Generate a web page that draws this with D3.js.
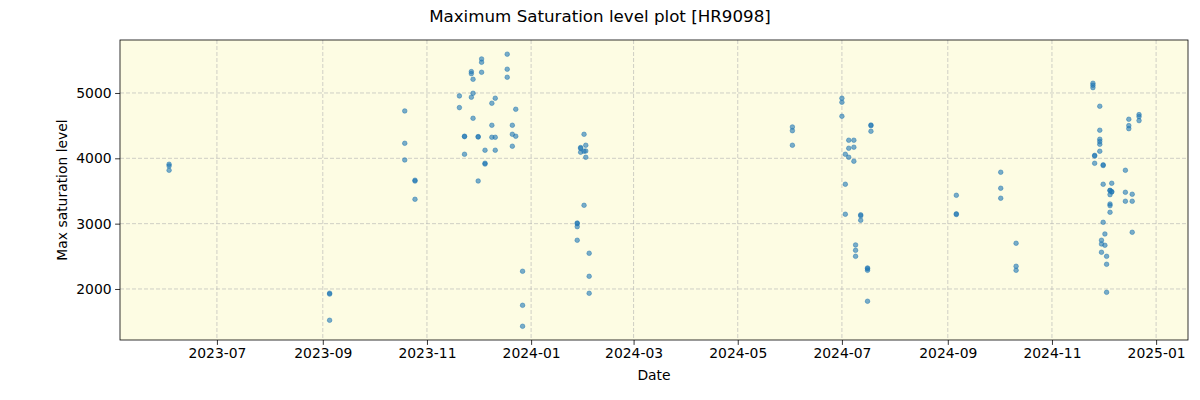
<!DOCTYPE html>
<html>
<head>
<meta charset="utf-8">
<script src="https://cdn.jsdelivr.net/npm/d3@7"></script>
<style>
  body { margin: 0; background: #fff; }
  svg { font-family: "DejaVu Sans", sans-serif; }
</style>
</head>
<body>
<svg id="chart"></svg>
<script>
const dates = [
  "2023-06-03","2023-06-03","2023-06-03",
  "2023-09-05","2023-09-05","2023-09-05",
  "2023-10-19","2023-10-19","2023-10-19","2023-10-25","2023-10-25","2023-10-25",
  "2023-11-20","2023-11-20","2023-11-23","2023-11-23","2023-11-23",
  "2023-11-27","2023-11-27","2023-11-28","2023-11-28","2023-11-27","2023-11-28",
  "2023-12-01","2023-12-01","2023-12-01","2023-12-03","2023-12-03","2023-12-03",
  "2023-12-05","2023-12-05","2023-12-05",
  "2023-12-09","2023-12-11","2023-12-09","2023-12-09","2023-12-11","2023-12-11",
  "2023-12-18","2023-12-18","2023-12-18","2023-12-21","2023-12-21","2023-12-23","2023-12-21","2023-12-23",
  "2023-12-27","2023-12-27","2023-12-27",
  "2024-02-01","2024-02-02","2024-01-30","2024-01-30","2024-01-30","2024-02-01","2024-02-02","2024-02-02","2024-02-01",
  "2024-01-28","2024-01-28","2024-01-28","2024-01-28","2024-02-04","2024-02-04","2024-02-04",
  "2024-06-02","2024-06-02","2024-06-02",
  "2024-07-01","2024-07-01","2024-07-01",
  "2024-07-03","2024-07-03","2024-07-03",
  "2024-07-05","2024-07-05","2024-07-05",
  "2024-07-08","2024-07-08","2024-07-08",
  "2024-07-09","2024-07-09","2024-07-09",
  "2024-07-12","2024-07-12","2024-07-12",
  "2024-07-16","2024-07-16","2024-07-16","2024-07-16",
  "2024-07-18","2024-07-18","2024-07-18",
  "2024-09-06","2024-09-06","2024-09-06",
  "2024-10-02","2024-10-02","2024-10-02",
  "2024-10-11","2024-10-11","2024-10-11",
  "2024-11-25","2024-11-25","2024-11-25",
  "2024-11-29","2024-11-29","2024-11-29","2024-11-29","2024-11-29","2024-11-29",
  "2024-11-26","2024-11-26","2024-11-26",
  "2024-12-01","2024-12-01","2024-12-01","2024-12-01",
  "2024-11-30","2024-11-30","2024-12-02","2024-11-30","2024-12-03","2024-12-03","2024-12-03","2024-12-02",
  "2024-12-06","2024-12-05","2024-12-05","2024-12-06","2024-12-06","2024-12-05","2024-12-05","2024-12-05","2024-12-05",
  "2024-12-14","2024-12-14","2024-12-14",
  "2024-12-16","2024-12-16","2024-12-16",
  "2024-12-18","2024-12-18","2024-12-18",
  "2024-12-22","2024-12-22","2024-12-22"
];
const values = [
  3909,3883,3817,
  1935,1922,1521,
  4725,4230,3975,3665,3652,3373,
  4955,4776,4332,4338,4062,
  5327,5296,5210,4996,4935,4613,
  4332,4326,3653,5521,5470,5317,
  4124,3925,3912,
  4843,4920,4506,4322,4322,4124,
  5594,5364,5241,4506,4368,4338,4185,4751,
  2271,1750,1429,
  4368,4200,4165,4152,4093,4108,4112,4016,3281,
  3010,3000,2954,2746,2547,2194,1934,
  4480,4423,4200,
  4920,4858,4644,
  4062,3603,3144,
  4277,4154,4016,
  4277,4170,3955,
  2674,2592,2500,
  3135,3120,3052,
  2322,2310,2286,1812,
  4510,4500,4414,
  3434,3150,3140,
  3787,3542,3389,
  2700,2348,2286,
  5149,5118,5082,
  4797,4430,4292,4255,4215,4108,
  4045,4035,3924,
  3900,3890,3603,3021,
  2746,2689,2669,2562,2500,2378,1949,2842,
  3618,3511,3505,3490,3485,3444,3301,3276,3174,
  3817,3480,3343,
  4598,4500,4454,
  3450,3343,2868,
  4669,4638,4577
];
const yTicks = [2000, 3000, 4000, 5000];
const xStart = "2023-05-05T06:00", xEnd = "2025-01-19T16:00";

const W = 1200, H = 400;
const margin = {top: 40, right: 12, bottom: 60, left: 120};
const innerW = W - margin.left - margin.right;
const innerH = H - margin.top - margin.bottom;

const parse = d3.utcParse("%Y-%m-%d");
const parseT = d3.utcParse("%Y-%m-%dT%H:%M");
const points = dates.map((d, i) => ({date: parse(d), value: values[i]}));

const svg = d3.select("#chart").attr("width", W).attr("height", H);

const x = d3.scaleUtc()
    .domain([parseT(xStart), parseT(xEnd)])
    .range([0, innerW]);
const y = d3.scaleLinear()
    .domain([1219, 5811])
    .range([innerH, 0]);

const g = svg.append("g").attr("transform", `translate(${margin.left},${margin.top})`);

g.append("rect")
    .attr("width", innerW)
    .attr("height", innerH)
    .attr("fill", "#fdfce3");

const xTicks = x.ticks(d3.utcMonth.every(2));

// grid
g.append("g").selectAll("line")
    .data(xTicks)
    .join("line")
    .attr("x1", d => x(d)).attr("x2", d => x(d))
    .attr("y1", 0).attr("y2", innerH)
    .attr("stroke", "#b0b0b0").attr("stroke-opacity", 0.6)
    .attr("stroke-dasharray", "4,2");
g.append("g").selectAll("line")
    .data(yTicks)
    .join("line")
    .attr("x1", 0).attr("x2", innerW)
    .attr("y1", d => y(d)).attr("y2", d => y(d))
    .attr("stroke", "#b0b0b0").attr("stroke-opacity", 0.6)
    .attr("stroke-dasharray", "4,2");

// points
g.append("g").selectAll("circle")
    .data(points)
    .join("circle")
    .attr("cx", d => x(d.date))
    .attr("cy", d => y(d.value))
    .attr("r", 2.3)
    .attr("fill", "#1f77b4")
    .attr("fill-opacity", 0.6)
    .attr("stroke", "#1f77b4")
    .attr("stroke-opacity", 0.6)
    .attr("stroke-width", 0.8);

// axes
const xAxis = g.append("g")
    .attr("transform", `translate(0,${innerH})`)
    .call(d3.axisBottom(x).tickValues(xTicks).tickFormat(d3.utcFormat("%Y-%m")).tickSize(4.9).tickPadding(3.5));
const yAxis = g.append("g")
    .call(d3.axisLeft(y).tickValues(yTicks).tickFormat(d3.format("d")).tickSize(4.9).tickPadding(3.5));

[xAxis, yAxis].forEach(a => {
    a.select(".domain").remove();
    a.selectAll("text").attr("font-size", 13.9).attr("fill", "#000").attr("font-family", "DejaVu Sans");
    a.selectAll("line").attr("stroke", "#000").attr("stroke-width", 0.8);
});

g.append("rect")
    .attr("width", innerW)
    .attr("height", innerH)
    .attr("fill", "none")
    .attr("stroke", "#000")
    .attr("stroke-width", 0.8);

// labels
svg.append("text")
    .attr("x", W / 2).attr("y", 22)
    .attr("text-anchor", "middle")
    .attr("font-size", 16.7)
    .text("Maximum Saturation level plot [HR9098]");
svg.append("text")
    .attr("x", margin.left + innerW / 2).attr("y", 380)
    .attr("text-anchor", "middle")
    .attr("font-size", 13.9)
    .text("Date");
svg.append("text")
    .attr("transform", `translate(67,${margin.top + innerH / 2}) rotate(-90)`)
    .attr("text-anchor", "middle")
    .attr("font-size", 13.9)
    .text("Max saturation level");
</script>
</body>
</html>
